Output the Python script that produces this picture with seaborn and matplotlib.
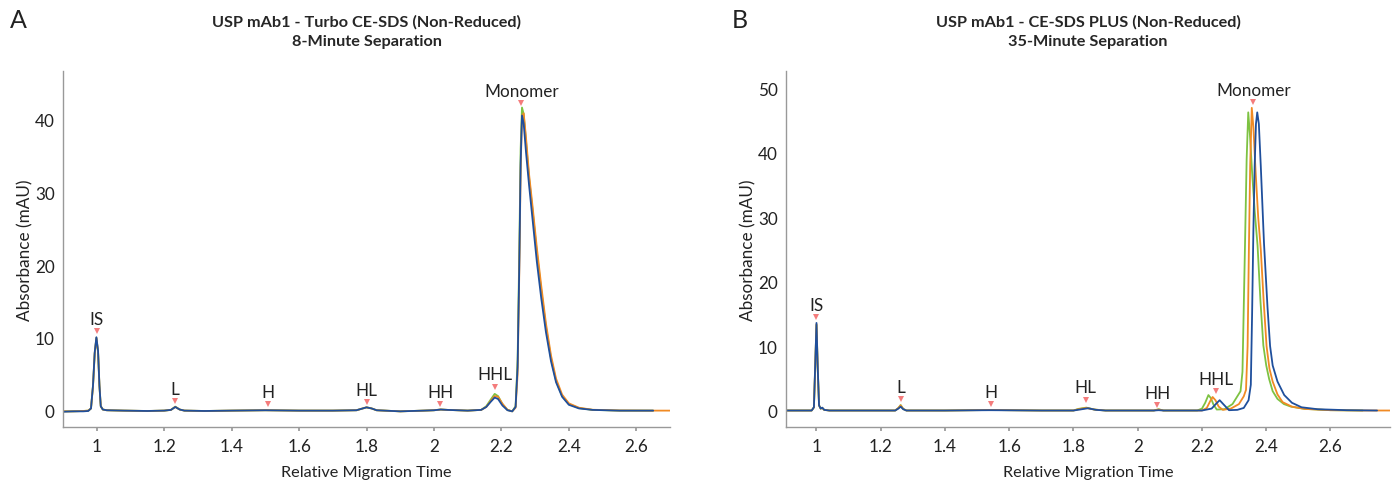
import matplotlib
matplotlib.use("Agg")
import matplotlib.pyplot as plt
import seaborn as sns
import pandas as pd
from matplotlib.ticker import FuncFormatter

sns.set_theme(style="white")
plt.rcParams['font.family'] = ['Lato', 'DejaVu Sans']

# Colori delle tre corse
COLORI = {'green': '#7dc242', 'orange': '#f08a24', 'blue': '#1f4f9c'}
ORDINE = ['green', 'orange', 'blue']
COLORE_PICCO = '#f47c7c'

# --- Pannello A: Turbo CE-SDS, griglia x comune alle tre tracce ---
a_x = [0.90, 0.93, 0.96, 0.975, 0.983, 0.989, 0.994, 0.999, 1.004, 1.008,
       1.012, 1.018, 1.03, 1.08, 1.15, 1.2, 1.22, 1.233, 1.246, 1.26,
       1.32, 1.4, 1.5, 1.6, 1.7, 1.77, 1.785, 1.80, 1.815, 1.83,
       1.9, 1.97, 2.0, 2.02, 2.04, 2.1, 2.14, 2.155, 2.168, 2.18,
       2.19, 2.203, 2.218, 2.232, 2.242, 2.248, 2.253, 2.257, 2.261, 2.266,
       2.273, 2.282, 2.293, 2.305, 2.318, 2.332, 2.347, 2.362, 2.38, 2.4,
       2.43, 2.47, 2.55, 2.65, 2.7]
a_blue = [-0.15, -0.1, -0.1, -0.05, 0.3, 3.5, 8.0, 10.1, 8.2, 3.5,
          0.6, 0.15, 0.05, 0.0, -0.05, 0.0, 0.1, 0.5, 0.15, 0.0,
          -0.05, 0.0, 0.05, 0.0, 0.0, 0.05, 0.25, 0.45, 0.3, 0.05,
          -0.1, 0.0, 0.05, 0.15, 0.1, 0.0, 0.1, 0.5, 1.2, 1.8,
          1.6, 0.7, 0.05, -0.1, 0.5, 6.0, 20.0, 34.0, 40.6, 39.5,
          35.5, 31.0, 26.0, 20.5, 15.5, 10.8, 6.8, 3.9, 1.9, 0.8,
          0.3, 0.1, 0.0, 0.0, None]
a_green = [-0.1, -0.1, -0.05, 0.0, 0.3, 3.4, 7.8, 10.0, 8.0, 3.4,
           0.6, 0.15, 0.05, 0.0, -0.05, 0.0, 0.1, 0.55, 0.15, 0.0,
           -0.05, 0.0, 0.05, 0.0, 0.0, 0.05, 0.25, 0.45, 0.3, 0.05,
           -0.1, 0.0, 0.05, 0.15, 0.1, 0.0, 0.1, 0.6, 1.5, 2.3,
           2.0, 0.9, 0.1, -0.1, 0.6, 7.0, 22.0, 36.0, 41.7, 40.8,
           37.0, 32.0, 27.3, 21.8, 16.6, 11.5, 7.2, 4.1, 2.0, 0.9,
           0.35, 0.1, 0.0, 0.0, None]
a_orange = [-0.1, -0.1, -0.05, 0.0, 0.3, 3.4, 7.9, 10.0, 8.1, 3.5,
            0.6, 0.15, 0.05, 0.0, -0.05, 0.0, 0.1, 0.5, 0.15, 0.0,
            -0.05, 0.0, 0.05, 0.0, 0.0, 0.05, 0.25, 0.45, 0.3, 0.05,
            -0.1, 0.0, 0.05, 0.15, 0.1, 0.0, 0.1, 0.5, 1.3, 2.0,
            1.9, 0.95, 0.1, -0.1, 0.4, 5.0, 19.0, 33.0, 40.5, 40.9,
            37.5, 32.5, 27.8, 22.4, 17.2, 12.0, 7.6, 4.4, 2.2, 1.0,
            0.4, 0.12, 0.02, 0.0, 0.0]

# --- Pannello B: CE-SDS PLUS, ogni traccia con la sua x ---
b_blue_x = [0.905, 0.95, 0.985, 0.992, 0.996, 1.0, 1.004, 1.008, 1.013, 1.018,
            1.024, 1.04, 1.1, 1.2, 1.245, 1.255, 1.262, 1.27, 1.28, 1.4,
            1.54, 1.7, 1.8, 1.82, 1.845, 1.87, 1.9, 2.05, 2.065, 2.08,
            2.2, 2.23, 2.243, 2.255, 2.268, 2.284, 2.31, 2.33, 2.345, 2.352,
            2.356, 2.36, 2.364, 2.368, 2.372, 2.377, 2.383, 2.393, 2.404, 2.412,
            2.42, 2.435, 2.456, 2.48, 2.51, 2.56, 2.65, 2.745]
b_blue_y = [0.0, 0.0, 0.0, 0.5, 7.0, 13.6, 6.5, 0.8, 0.3, 0.45,
            0.1, 0.0, 0.0, 0.0, 0.0, 0.3, 0.6, 0.2, 0.0, 0.0,
            0.05, 0.0, 0.0, 0.15, 0.35, 0.1, 0.0, 0.0, 0.05, 0.0,
            0.0, 0.3, 1.0, 1.6, 0.9, 0.05, 0.1, 0.4, 1.6, 4.0,
            15.0, 28.0, 38.0, 44.5, 46.3, 44.5, 38.0, 26.0, 16.0, 10.0,
            7.0, 4.5, 2.4, 1.2, 0.5, 0.2, 0.05, 0.0]
b_orange_x = [0.905, 0.95, 0.985, 0.992, 0.996, 1.0, 1.004, 1.008, 1.013, 1.018,
              1.024, 1.04, 1.1, 1.2, 1.245, 1.255, 1.262, 1.27, 1.28, 1.4,
              1.54, 1.7, 1.8, 1.815, 1.84, 1.865, 1.9, 2.05, 2.065, 2.08,
              2.2, 2.215, 2.225, 2.233, 2.242, 2.252, 2.265, 2.29, 2.315, 2.33,
              2.337, 2.342, 2.346, 2.35, 2.355, 2.36, 2.367, 2.375, 2.383, 2.392,
              2.401, 2.41, 2.42, 2.435, 2.451, 2.48, 2.52, 2.6, 2.7, 2.785]
b_orange_y = [0.0, 0.0, 0.0, 0.5, 6.8, 13.4, 6.4, 0.8, 0.3, 0.4,
              0.1, 0.0, 0.0, 0.0, 0.0, 0.4, 0.8, 0.25, 0.0, 0.0,
              0.08, 0.0, 0.0, 0.2, 0.4, 0.15, 0.0, 0.0, 0.15, 0.0,
              0.0, 0.4, 1.4, 2.1, 1.6, 0.6, 0.1, 0.3, 1.0, 2.2,
              3.2, 10.0, 25.0, 38.0, 47.0, 44.0, 37.0, 30.0, 25.0, 17.0,
              10.0, 6.5, 4.5, 2.5, 1.3, 0.6, 0.25, 0.05, 0.0, 0.0]
b_green_x = [0.905, 0.95, 0.985, 0.992, 0.996, 1.0, 1.004, 1.008, 1.013, 1.018,
             1.024, 1.04, 1.1, 1.2, 1.245, 1.255, 1.262, 1.27, 1.28, 1.4,
             1.54, 1.7, 1.8, 1.815, 1.84, 1.865, 1.9, 2.05, 2.065, 2.08,
             2.185, 2.2, 2.21, 2.22, 2.228, 2.236, 2.246, 2.27, 2.295, 2.31,
             2.32, 2.326, 2.33, 2.334, 2.339, 2.344, 2.349, 2.356, 2.364, 2.373,
             2.382, 2.391, 2.4, 2.409, 2.42, 2.435, 2.455, 2.477, 2.52, 2.6, 2.7]
b_green_y = [0.0, 0.0, 0.0, 0.5, 6.7, 13.3, 6.3, 0.8, 0.3, 0.4,
             0.1, 0.0, 0.0, 0.0, 0.0, 0.4, 0.85, 0.25, 0.0, 0.0,
             0.08, 0.0, 0.0, 0.25, 0.45, 0.15, 0.0, 0.0, 0.2, 0.0,
             0.0, 0.3, 1.2, 2.4, 1.9, 0.9, 0.15, 0.2, 1.0, 2.2,
             3.0, 6.0, 16.0, 26.0, 39.0, 46.3, 43.0, 37.0, 31.0, 25.6,
             17.0, 10.1, 7.0, 4.9, 3.0, 1.8, 1.0, 0.6, 0.25, 0.05, 0.0]

# Etichette dei picchi: posizione del triangolino
a_picchi = ['IS', 'L', 'H', 'HL', 'HH', 'HHL', 'Monomer']
a_picchi_x = [1.0, 1.233, 1.507, 1.801, 2.019, 2.182, 2.259]
a_picchi_y = [10.9, 1.27, 0.9, 1.13, 0.9, 3.3, 42.3]
b_picchi = ['IS', 'L', 'H', 'HL', 'HH', 'HHL', 'Monomer']
b_picchi_x = [1.0, 1.262, 1.542, 1.838, 2.06, 2.243, 2.36]
b_picchi_y = [14.5, 1.8, 1.04, 1.7, 0.78, 3.0, 47.9]

a_ticks_x = [1, 1.2, 1.4, 1.6, 1.8, 2, 2.2, 2.4, 2.6]
a_ticks_y = [0, 10, 20, 30, 40]
b_ticks_x = [1, 1.2, 1.4, 1.6, 1.8, 2, 2.2, 2.4, 2.6]
b_ticks_y = [0, 10, 20, 30, 40, 50]


def tabella(tracce):
    righe = []
    for nome, xs, ys in tracce:
        for x, y in zip(xs, ys):
            if y is not None:
                righe.append({'x': x, 'y': y, 'traccia': nome})
    return pd.DataFrame(righe)


def disegna(ax, df, nomi, px, py, ticks_x, ticks_y, xlim, ylim, titolo):
    sns.lineplot(data=df, x='x', y='y', hue='traccia', hue_order=ORDINE,
                 palette=COLORI, estimator=None, sort=False, legend=False,
                 linewidth=1.3, ax=ax)
    ax.plot(px, py, linestyle='none', marker='v', markersize=4.5,
            color=COLORE_PICCO, markeredgewidth=0)
    for nome, x, y in zip(nomi, px, py):
        ax.annotate(nome, (x, y), xytext=(0, 3), textcoords='offset points',
                    ha='center', va='bottom', fontsize=12.3, color='#222222')
    ax.set_xlim(*xlim)
    ax.set_ylim(*ylim)
    ax.set_xticks(ticks_x)
    ax.set_yticks(ticks_y)
    ax.xaxis.set_major_formatter(FuncFormatter(lambda v, p: f"{v:g}"))
    ax.tick_params(axis='x', length=3, color='#999999', labelsize=12.3,
                   labelcolor='#222222', pad=5, bottom=True)
    ax.tick_params(axis='y', length=0, labelsize=12.3, labelcolor='#222222', pad=6)
    for lato in ['top', 'right']:
        ax.spines[lato].set_visible(False)
    for lato in ['left', 'bottom']:
        ax.spines[lato].set_color('#999999')
        ax.spines[lato].set_linewidth(1.0)
    ax.set_xlabel("Relative Migration Time", fontsize=11.7, color='#222222', labelpad=8)
    ax.set_ylabel("Absorbance (mAU)", fontsize=12.3, color='#222222', labelpad=1)
    ax.set_title(titolo, fontsize=11.7, fontweight='bold', pad=19, linespacing=1.45)


fig = plt.figure(figsize=(14, 4.81), dpi=100)
ax_a = fig.add_axes([0.045, 0.111, 0.4336, 0.739])
ax_b = fig.add_axes([0.5614, 0.111, 0.4314, 0.739])

df_a = tabella([('green', a_x, a_green), ('orange', a_x, a_orange), ('blue', a_x, a_blue)])
df_b = tabella([('green', b_green_x, b_green_y), ('orange', b_orange_x, b_orange_y),
                ('blue', b_blue_x, b_blue_y)])

disegna(ax_a, df_a, a_picchi, a_picchi_x, a_picchi_y, a_ticks_x, a_ticks_y,
        (0.9, 2.7), (-2.2, 46.7),
        "USP mAb1 - Turbo CE-SDS (Non-Reduced)\n8-Minute Separation")
disegna(ax_b, df_b, b_picchi, b_picchi_x, b_picchi_y, b_ticks_x, b_ticks_y,
        (0.905, 2.785), (-2.5, 52.7),
        "USP mAb1 - CE-SDS PLUS (Non-Reduced)\n35-Minute Separation")

fig.text(0.007, 0.958, 'A', fontsize=18, color='#222222', va='center')
fig.text(0.523, 0.958, 'B', fontsize=18, color='#222222', va='center')

fig.savefig('out.png', dpi=100)
